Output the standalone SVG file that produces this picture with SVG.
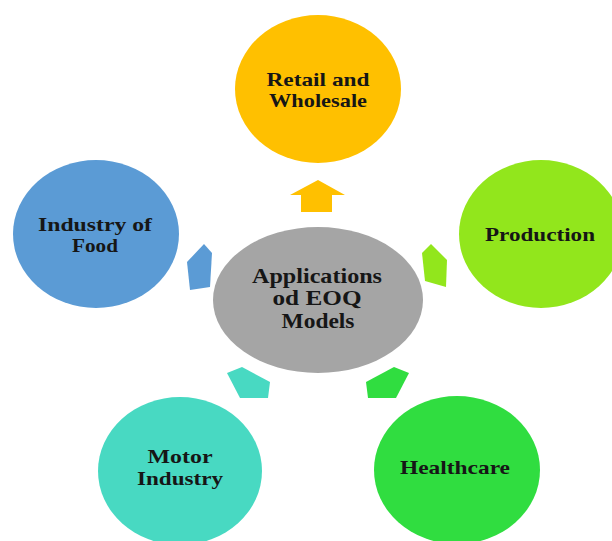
<svg xmlns="http://www.w3.org/2000/svg" width="612" height="541" viewBox="0 0 612 541">
  <style>
    .lbl { font-family: "Liberation Serif", "Times New Roman", serif; font-weight: bold; font-size: 19px; fill: #161616; text-anchor: middle; }
    .big { font-size: 21px; }
  </style>
  <rect x="0" y="0" width="612" height="541" fill="#ffffff"/>
  <g id="connectors">
    <polygon points="318,180 345,195 332,195 332,212 301,212 301,195 290,195" fill="#FFC000"/>
    <polygon points="431,244 447,260 446,287 425,281 422,253" fill="#92E61C"/>
    <polygon points="204,244 212,253 210,287 190,290 187,262" fill="#5B9BD5"/>
    <polygon points="227,373 242,367 270,382 268,398 240,398" fill="#48D9C2"/>
    <polygon points="409,373 394,367 366,382 368,398 396,398" fill="#30DD40"/>
  </g>
  <g id="node-retail">
    <ellipse cx="318" cy="89" rx="83" ry="74" fill="#FFC000"/>
    <text class="lbl" x="318" y="86" textLength="103" lengthAdjust="spacingAndGlyphs">Retail and</text>
    <text class="lbl" x="318" y="107" textLength="98" lengthAdjust="spacingAndGlyphs">Wholesale</text>
  </g>
  <g id="node-food">
    <ellipse cx="96" cy="234" rx="83" ry="74" fill="#5B9BD5"/>
    <text class="lbl" x="95" y="231" textLength="114" lengthAdjust="spacingAndGlyphs">Industry of</text>
    <text class="lbl" x="95" y="252" textLength="46" lengthAdjust="spacingAndGlyphs">Food</text>
  </g>
  <g id="node-production">
    <ellipse cx="541" cy="234" rx="82" ry="74" fill="#92E61C"/>
    <text class="lbl" x="540" y="241" textLength="110" lengthAdjust="spacingAndGlyphs">Production</text>
  </g>
  <g id="node-center">
    <ellipse cx="318" cy="300" rx="105" ry="73" fill="#A5A5A5"/>
    <text class="lbl big" x="317" y="283" textLength="130" lengthAdjust="spacingAndGlyphs">Applications</text>
    <text class="lbl big" x="317" y="305" textLength="89" lengthAdjust="spacingAndGlyphs">od EOQ</text>
    <text class="lbl big" x="318" y="328" textLength="73" lengthAdjust="spacingAndGlyphs">Models</text>
  </g>
  <g id="node-motor">
    <ellipse cx="180" cy="471" rx="82" ry="74" fill="#48D9C2"/>
    <text class="lbl" x="180" y="463" textLength="65" lengthAdjust="spacingAndGlyphs">Motor</text>
    <text class="lbl" x="180" y="485" textLength="86" lengthAdjust="spacingAndGlyphs">Industry</text>
  </g>
  <g id="node-healthcare">
    <ellipse cx="457" cy="470" rx="83" ry="74" fill="#30DD40"/>
    <text class="lbl" x="455" y="474" textLength="110" lengthAdjust="spacingAndGlyphs">Healthcare</text>
  </g>
</svg>
